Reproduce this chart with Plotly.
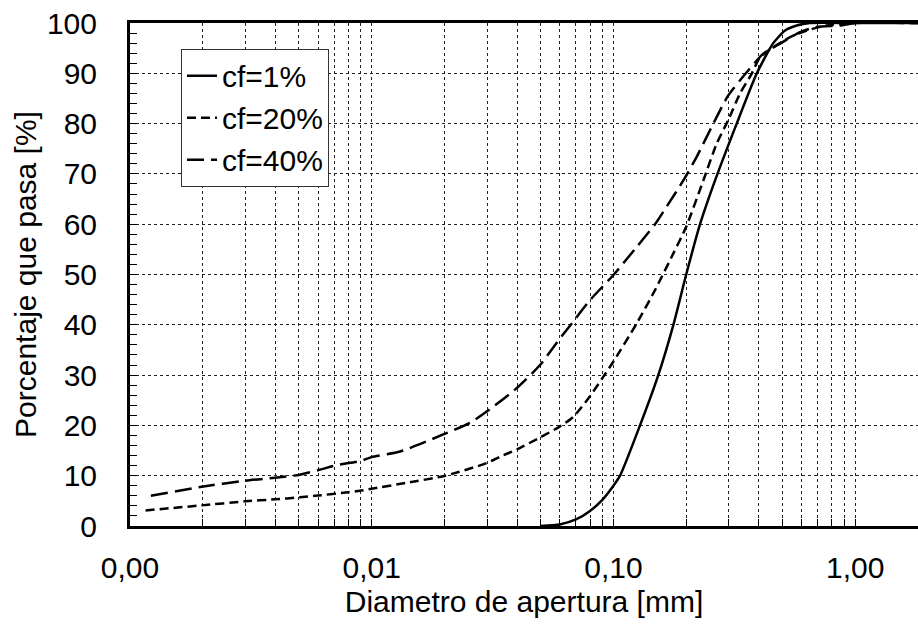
import plotly.graph_objects as go

# --- data (diameter in mm, % passing) ---
d_cf1 = [0.050, 0.060, 0.070, 0.080, 0.090, 0.100, 0.1065, 0.1288, 0.1533, 0.177, 0.200,
         0.2282, 0.2633, 0.3236, 0.392, 0.457, 0.513, 0.573, 0.650, 1.0, 1.82]
p_cf1 = [0.0, 0.3, 1.3, 3.0, 5.2, 8.0, 10.0, 20.0, 30.0, 40.0, 50.0,
         60.0, 68.7, 80.0, 90.0, 95.9, 98.5, 99.5, 100.0, 100.0, 100.0]

d_cf20 = [0.00116, 0.00198, 0.00299, 0.00398, 0.00505, 0.00598, 0.00798, 0.00895, 0.00998,
          0.01396, 0.01977, 0.0299, 0.034, 0.0398, 0.0497, 0.0601, 0.0682, 0.080,
          0.090, 0.100, 0.1249, 0.1486, 0.177, 0.200, 0.2355, 0.2673, 0.2985, 0.334,
          0.373, 0.4043, 0.459, 0.538, 0.631, 0.763, 1.0, 1.82]
p_cf20 = [3.1, 4.1, 4.9, 5.3, 5.7, 6.05, 6.7, 7.0, 7.4,
          8.6, 9.9, 12.5, 13.8, 15.2, 17.6, 19.8, 21.7, 25.8,
          29.4, 32.7, 40.3, 46.9, 54.2, 59.5, 68.7, 76.0, 80.7, 86.0,
          89.9, 93.2, 95.2, 97.2, 98.5, 99.5, 100.0, 100.0]

d_cf40 = [0.00122, 0.00198, 0.00299, 0.00398, 0.00505, 0.00611, 0.00716, 0.00895, 0.00998,
          0.0131, 0.01977, 0.0255, 0.0300, 0.0398, 0.0497, 0.059, 0.0661, 0.080, 0.100,
          0.1249, 0.1486, 0.166, 0.1946, 0.221, 0.259, 0.2985, 0.356, 0.417, 0.489, 0.592,
          0.693, 0.866, 1.0, 1.82]
p_cf40 = [6.0, 7.8, 9.0, 9.6, 10.2, 11.2, 12.1, 12.9, 13.7,
          14.8, 18.2, 20.5, 22.8, 27.4, 32.0, 36.8, 39.8, 44.9, 49.9,
          55.5, 60.0, 63.5, 68.7, 73.4, 80.0, 85.6, 90.2, 93.9, 95.9, 98.2,
          99.2, 99.5, 100.0, 100.0]

x_tickvals = [0.001, 0.01, 0.1, 1.0]
x_ticktext = ["0,00", "0,01", "0,10", "1,00"]
series_names = ["cf=1%", "cf=20%", "cf=40%"]

FONT = "Liberation Sans, Arial, sans-serif"
GRID = "#222222"

minor_x = [m * 10 ** e for e in (-3, -2, -1, 0) for m in range(2, 10) if m * 10 ** e < 1.9]

fig = go.Figure()
fig.add_trace(go.Scatter(x=d_cf1, y=p_cf1, mode="lines", name=series_names[0],
                         legendgroup="a",
                         line=dict(color="black", width=2.5, dash="solid",
                                   shape="spline", smoothing=0.6)))
fig.add_trace(go.Scatter(x=d_cf20, y=p_cf20, mode="lines", name=series_names[1],
                         legendgroup="b",
                         line=dict(color="black", width=2.5, dash="9px,5px",
                                   shape="spline", smoothing=0.6)))
fig.add_trace(go.Scatter(x=d_cf40, y=p_cf40, mode="lines", name=series_names[2],
                         legendgroup="c",
                         line=dict(color="black", width=2.5, dash="17px,7px",
                                   shape="spline", smoothing=0.6)))

fig.update_layout(
    width=918, height=624,
    margin=dict(l=130, r=0, t=22.5, b=97.5),
    paper_bgcolor="white", plot_bgcolor="white",
    font=dict(family=FONT, size=30, color="black"),
    showlegend=True,
    legend=dict(x=0.0647, y=0.949, xanchor="left", yanchor="top",
                bgcolor="white", bordercolor="#333333", borderwidth=1,
                font=dict(size=30), itemwidth=30, tracegroupgap=0,
                traceorder="grouped"),
    xaxis=dict(
        type="log", range=[-3, 0.26],
        tickvals=x_tickvals, ticktext=x_ticktext,
        ticks="inside", ticklen=7, tickcolor="black", tickwidth=1,
        showline=True, linecolor="black", linewidth=3, mirror=True,
        showgrid=True, gridcolor=GRID, griddash="dot", gridwidth=1,
        minor=dict(tickvals=minor_x, ticks="inside", ticklen=7, tickcolor="black",
                   showgrid=True, gridcolor=GRID, griddash="dot", gridwidth=1),
        ticklabelstandoff=13,
        title=dict(text="Diametro de apertura [mm]", font=dict(size=30), standoff=8),
        zeroline=False,
    ),
    yaxis=dict(
        range=[0, 100], dtick=10, tick0=0,
        ticks="inside", ticklen=7, tickcolor="black", tickwidth=1,
        showline=True, linecolor="black", linewidth=3,
        showgrid=True, gridcolor=GRID, griddash="dot", gridwidth=1,
        minor=dict(dtick=2, ticks="inside", ticklen=7, tickcolor="black", showgrid=False),
        ticklabelstandoff=24,
        title=dict(text="Porcentaje que pasa [%]", font=dict(size=30), standoff=2),
        zeroline=False,
    ),
)

fig.write_html("out.html")
